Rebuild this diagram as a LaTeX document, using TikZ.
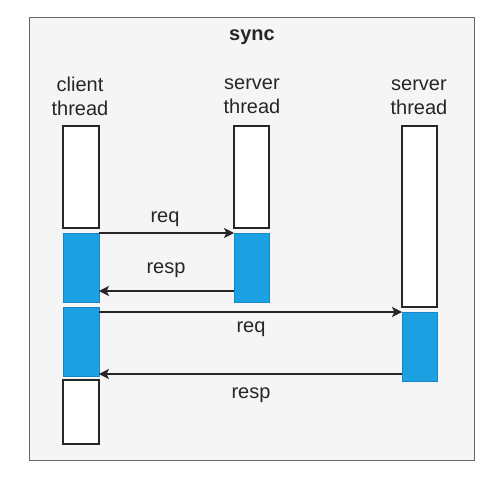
\documentclass[tikz,border=0pt]{standalone}
\usepackage{fontspec}
\setmainfont{Liberation Sans}
\usetikzlibrary{arrows.meta}
\definecolor{bgc}{HTML}{F5F5F5}
\definecolor{frc}{HTML}{666666}
\definecolor{bluef}{HTML}{1BA1E2}
\definecolor{blued}{HTML}{1A86C7}
\begin{document}
\begin{tikzpicture}[x=1pt,y=-1pt,
  lbl/.style={font=\fontsize{20}{24}\selectfont, align=center, inner sep=0pt, text=black!85},
  idle/.style={draw=black!85, line width=1.3pt, fill=white},
  busy/.style={draw=blued, line width=1pt, fill=bluef},
  msg/.style={draw=black!85, line width=1.2pt, -{Stealth[length=10pt,width=10pt,inset=2.5pt]}}]
\useasboundingbox (0,0) rectangle (504,480);
\path[fill=white] (0,0) rectangle (504,480);
\node[draw=frc, fill=bgc, line width=1pt, minimum width=445pt, minimum height=443pt, inner sep=0pt] (frame) at (251.5,238.5) {};
\node[lbl, font=\bfseries\fontsize{20}{24}\selectfont] (title) at (252,37) {sync};
\node[lbl] (lc) at (80,96) {client\\thread};
\node[lbl] (ls1) at (252,96) {server\\thread};
\node[lbl] (ls2) at (419,97) {server\\thread};
% client column
\path[idle] (63,126) rectangle (99,228);
\path[busy] (63,233) rectangle (99,302);
\path[busy] (63,307) rectangle (99,376);
\path[idle] (63,380) rectangle (99,444);
% server 1
\path[idle] (234,126) rectangle (269,228);
\path[busy] (234,233) rectangle (269,302);
% server 2
\path[idle] (402,126) rectangle (437,307);
\path[busy] (402,312) rectangle (437,381);
% named anchors
\coordinate (c1) at (99,233);
\coordinate (s1in) at (234,233);
\coordinate (s1out) at (234,291);
\coordinate (c2) at (99,291);
\coordinate (c3) at (99,312);
\coordinate (s2in) at (402,312);
\coordinate (s2out) at (402,374);
\coordinate (c4) at (99,374);
\draw[msg] (c1) -- (s1in);
\draw[msg] (s1out) -- (c2);
\draw[msg] (c3) -- (s2in);
\draw[msg] (s2out) -- (c4);
\node[lbl] (t1) at (165,219) {req};
\node[lbl] (t2) at (166,270) {resp};
\node[lbl] (t3) at (251,329) {req};
\node[lbl] (t4) at (251,395) {resp};
\end{tikzpicture}
\end{document}
